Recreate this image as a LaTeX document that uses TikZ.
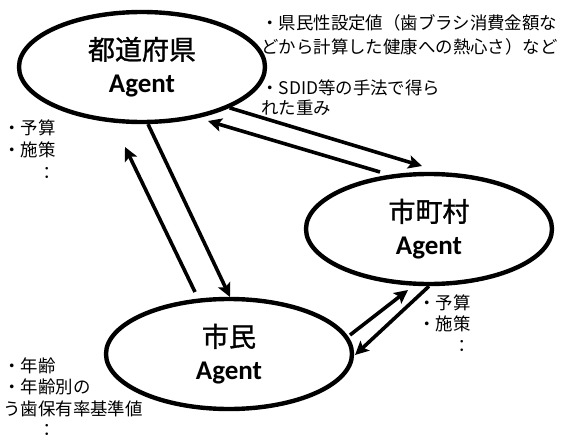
\documentclass[tikz,border=0pt]{standalone}
\usepackage{fontspec}
\usepackage{tikz}
\usetikzlibrary{arrows.meta,shapes.geometric}
\newfontfamily\jpfont{Noto Sans CJK JP}
\newfontfamily\jptitle{Noto Sans CJK JP}[FakeBold=1.2]
\newfontfamily\agentfont{Carlito}

\tikzset{
  agent/.style={draw, ellipse, line width=1.1mm, minimum width=61.5mm,
    minimum height=27.5mm, inner sep=0pt, align=center,
    font=\fontsize{19.2}{23.4}\selectfont\jptitle},
  fleche/.style={line width=0.9mm, -{Stealth[length=3.4mm,width=3.3mm,inset=0.7mm]}},
  note/.style={anchor=west, align=left, inner sep=0pt}
}
\newcommand{\ag}{{\agentfont\bfseries Agent}}

\begin{document}
\begin{tikzpicture}[x=0.25mm, y=-0.25mm]
\useasboundingbox (0,0) rectangle (561,435);

%% agents
\node[agent] (pref) at (142,67) {都道府県\\\ag};
\node[agent] (muni) at (429,229) {市町村\\\ag};
\node[agent] (citizen) at (229,354) {市民\\\ag};

%% extremites libres
\coordinate (pm) at (422,166);
\coordinate (mp1) at (380,172);
\coordinate (mp2) at (208,121);
\coordinate (pc) at (230,297);
\coordinate (cp1) at (195,292);
\coordinate (cp2) at (125,147);
\coordinate (cm1) at (350,335);
\coordinate (cm2) at (408,290);
\coordinate (mc) at (355,355);

%% fleches
\draw[fleche] (pref.-25) -- (pm);
\draw[fleche] (mp1) -- (mp2);
\draw[fleche] (pref.-84) -- (pc);
\draw[fleche] (cp1) -- (cp2);
\draw[fleche] (cm1) -- (cm2);
\draw[fleche] (muni.-90) -- (mc);

%% textes
\node[note, font=\fontsize{12.4}{17}\selectfont\jpfont] (kenmin) at (261,35)
  {・県民性設定値（歯ブラシ消費金額な\\どから計算した健康への熱心さ）など};
\node[note, font=\fontsize{12.4}{14.2}\selectfont\jpfont] (sdid) at (261,98)
  {・SDID等の手法で得ら\\れた重み};
\node[note, font=\fontsize{12.4}{16}\selectfont\jpfont] (yosan1) at (3,149.5)
  {・予算\\・施策\\\hspace*{2em}：};
\node[note, font=\fontsize{12.4}{15.2}\selectfont\jpfont] (yosan2) at (418,323.5)
  {・予算\\・施策\\\hspace*{2em}：};
\node[note, font=\fontsize{12.4}{15.2}\selectfont\jpfont] (nenrei) at (3,397)
  {・年齢\\・年齢別の\\う歯保有率基準値\\\hspace*{2em}：};
\end{tikzpicture}
\end{document}
